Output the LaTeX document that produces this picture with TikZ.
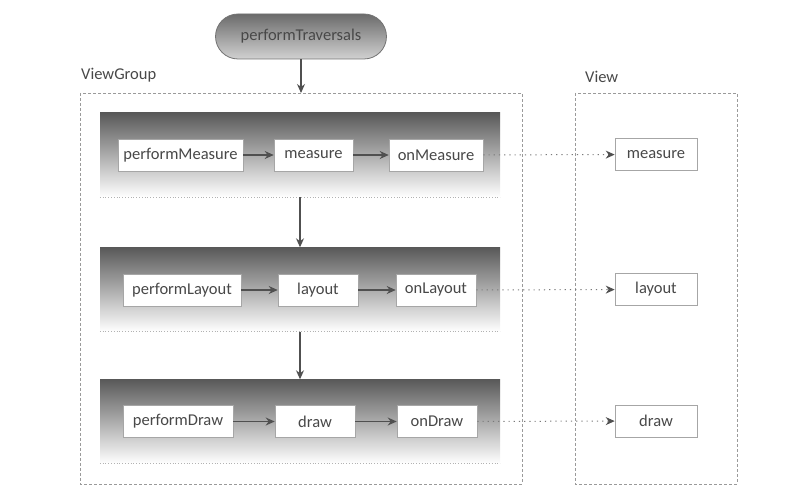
\documentclass[tikz,border=0pt]{standalone}
\usepackage{fontspec}
\setmainfont{Carlito}
\usetikzlibrary{arrows.meta,shapes.misc}
\definecolor{txt}{HTML}{484848}
\definecolor{ln}{HTML}{505050}
\definecolor{dashc}{HTML}{9A9A9A}
\definecolor{dotc}{HTML}{7A7A7A}
\begin{document}
\begin{tikzpicture}[x=1pt,y=-1pt,
  every node/.style={font=\fontsize{16.5}{18}\selectfont, text=txt},
  fnbox/.style={draw=black!35, line width=0.6pt, fill=white, minimum height=32pt, inner sep=0pt},
  band/.style={draw=none, top color=black!65, bottom color=white, minimum height=84pt, minimum width=400pt, inner sep=0pt},
  solidarrow/.style={draw=ln, line width=1.1pt, -{Stealth[length=9pt,width=8pt]}},
  dotarrow/.style={draw=dotc, line width=1pt, dash pattern=on 1.2pt off 4pt, -{Stealth[length=9pt,width=8pt,color=ln,fill=ln]}},
  frame/.style={draw=dashc, line width=0.7pt, dash pattern=on 3pt off 2pt},
  grouplabel/.style={anchor=west, inner sep=0pt}
]
\useasboundingbox (0,0) rectangle (812,502);
% pill
\node[rounded rectangle, draw=black!55, line width=0.8pt, top color=black!58, bottom color=black!18,
  minimum width=171pt, minimum height=45pt, inner sep=0pt] (pt) at (301,36.5) {performTraversals};
% group frames
\draw[frame] (80,93) rectangle (522,484);
\draw[frame] (575,93) rectangle (737,484);
\coordinate (vgtop) at (301,93);
\node[grouplabel] (vglabel) at (81,75) {ViewGroup};
\node[grouplabel] (vlabel) at (585,77) {View};
% bands
\node[band] (b1) at (300,155) {};
\node[band] (b2) at (300,289.5) {};
\node[band] (b3) at (300,421.5) {};
\draw[draw=black!30, line width=0.8pt, dotted] (b1.south west) -- (b1.south east);
\draw[draw=black!30, line width=0.8pt, dotted] (b2.south west) -- (b2.south east);
\draw[draw=black!30, line width=0.8pt, dotted] (b3.south west) -- (b3.south east);
% band 1
\node[fnbox, minimum width=125pt] (pm) at (180.5,155) {performMeasure};
\node[fnbox, minimum width=79pt] (m) at (313.5,155) {measure};
\node[fnbox, minimum width=94pt] (om) at (436,155) {onMeasure};
% band 2
\node[fnbox, minimum width=118pt] (pl) at (182,290) {performLayout};
\node[fnbox, minimum width=80pt] (l) at (318,290) {layout};
\node[fnbox, minimum width=80pt] (ol) at (436,290) {onLayout};
% band 3
\node[fnbox, minimum width=110pt] (pd) at (178,421.5) {performDraw};
\node[fnbox, minimum width=80pt] (d) at (315,421.5) {draw};
\node[fnbox, minimum width=80pt] (od) at (437,421.5) {onDraw};
% view
\node[fnbox, minimum width=82pt] (vm) at (656,154.5) {measure};
\node[fnbox, minimum width=82pt] (vl) at (656,289.5) {layout};
\node[fnbox, minimum width=82pt] (vd) at (656,421) {draw};
% arrows
\draw[solidarrow] (pt.south) -- (vgtop);
\draw[solidarrow] (b1.south) -- (b2.north);
\draw[solidarrow] (b2.south) -- (b3.north);
\draw[solidarrow] (pm) -- (m);
\draw[solidarrow] (m) -- (om);
\draw[solidarrow] (pl) -- (l);
\draw[solidarrow] (l) -- (ol);
\draw[solidarrow] (pd) -- (d);
\draw[solidarrow] (d) -- (od);
\draw[dotarrow] (om) -- (vm);
\draw[dotarrow] (ol) -- (vl);
\draw[dotarrow] (od) -- (vd);
\end{tikzpicture}
\end{document}
